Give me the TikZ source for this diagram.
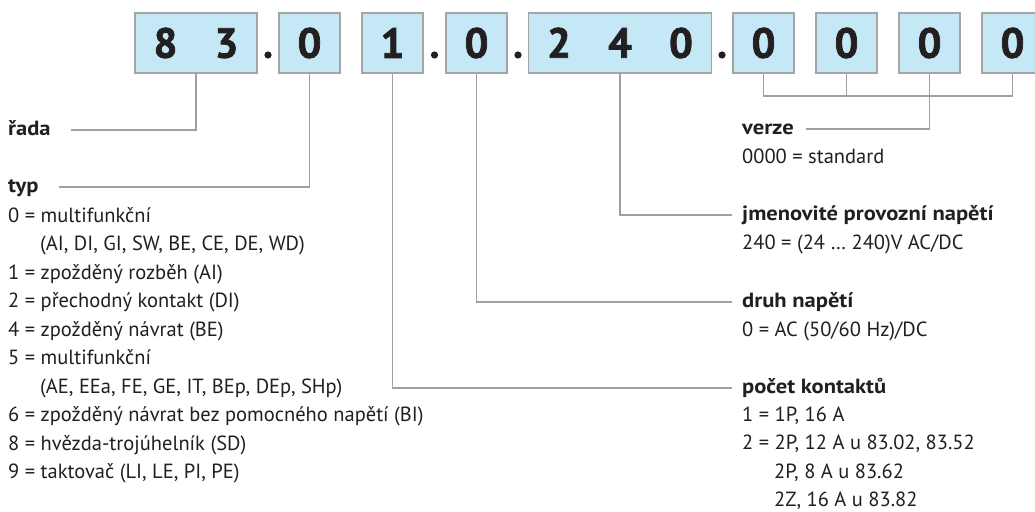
\documentclass[tikz,border=0pt]{standalone}
\usepackage{fontspec}
\setmainfont{PT Sans}[BoldFeatures={FakeStretch=1.1}]
\newfontfamily\digitfont{PT Sans}[BoldFeatures={FakeBold=1.8}]
\definecolor{boxfill}{RGB}{197,232,247}
\definecolor{boxline}{RGB}{165,165,165}
\definecolor{txt}{RGB}{35,31,32}
\definecolor{connc}{RGB}{160,160,160}
\begin{document}
\begin{tikzpicture}[x=1pt,y=-1pt,
  box/.style={draw=boxline, fill=boxfill, line width=1.1pt, minimum height=60pt, inner sep=0pt,
    font=\fontsize{42}{42}\digitfont\bfseries, text=txt},
  dotc/.style={fill=txt},
  head/.style={inner sep=0pt, anchor=base west, text=txt, font=\fontsize{20.5}{28.5}\selectfont\bfseries},
  body/.style={inner sep=0pt, anchor=base west, text=txt, align=left, font=\fontsize{20.5}{28.5}\selectfont},
  conn/.style={draw=connc, line width=1.1pt}
]
\clip (0,0) rectangle (1035,511);
\fill[white] (0,0) rectangle (1035,511);
% boxes
\node[box, minimum width=122pt] (b83) at (196,43) {\makebox[61pt]{8}\makebox[61pt]{3}};
\node[box, minimum width=61pt] (btyp) at (309.5,43) {0};
\node[box, minimum width=61pt] (bcnt) at (392.5,43) {1};
\node[box, minimum width=61pt] (bdr) at (476.5,43) {0};
\node[box, minimum width=183pt] (b240) at (620,43) {\makebox[61pt]{2}\makebox[61pt]{4}\makebox[61pt]{0}};
\node[box, minimum width=61pt] (v1) at (763.5,43) {0};
\node[box, minimum width=61pt] (v2) at (846.5,43) {0};
\node[box, minimum width=61pt] (v3) at (929.5,43) {0};
\node[box, minimum width=61pt] (v4) at (1012.5,43) {0};
% dots
\fill[dotc] (268,55) circle (3.6);
\fill[dotc] (434.5,55) circle (3.6);
\fill[dotc] (518,55) circle (3.6);
\fill[dotc] (722,55) circle (3.6);
% left texts (multi-line nodes are anchored at the baseline of their last line)
\node[head] (rada) at (8,135.5) {řada};
\node[head] (typ) at (8,192.5) {typ};
\node[body] (typtxt) at (8,478.5) {0 = multifunkční\\
\hspace*{32pt}(AI, DI, GI, SW, BE, CE, DE, WD)\\
1 = zpožděný rozběh (AI)\\
2 = přechodný kontakt (DI)\\
4 = zpožděný návrat (BE)\\
5 = multifunkční\\
\hspace*{32pt}(AE, EEa, FE, GE, IT, BEp, DEp, SHp)\\
6 = zpožděný návrat bez pomocného napětí (BI)\\
8 = hvězda-trojúhelník (SD)\\
9 = taktovač (LI, LE, PI, PE)};
% right texts
\node[head] (verze) at (742,134.5) {verze};
\node[body] (verzetxt) at (742,163) {0000 = standard};
\node[head] (jmen) at (742,220.5) {jmenovité provozní napětí};
\node[body] (jmentxt) at (742,249) {240 = (24 … 240)V AC/DC};
\node[head] (druh) at (742,307.5) {druh napětí};
\node[body] (druhtxt) at (742,336) {0 = AC (50/60 Hz)/DC};
\node[head] (pocet) at (742,393.5) {počet kontaktů};
\node[body] (pocettxt) at (742,506.5) {1 = 1P, 16 A\\
2 = 2P, 12 A u 83.02, 83.52\\
\hspace*{32pt}2P, 8 A u 83.62\\
\hspace*{32pt}2Z, 16 A u 83.82};
% connectors
\draw[conn] (b83.south) |- ([xshift=20pt,yshift=5.5pt]rada.base east);
\draw[conn] (btyp.south) |- ([xshift=20pt,yshift=5.5pt]typ.base east);
\draw[conn] (bcnt.south) |- ([xshift=-10pt,yshift=5.5pt]pocet.base west);
\draw[conn] (bdr.south) |- ([xshift=-10pt,yshift=5.5pt]druh.base west);
\draw[conn] (b240.south) |- ([xshift=-10pt,yshift=5.5pt]jmen.base west);
\coordinate (busL) at (763.5,96);
\coordinate (busR) at (1012.5,96);
\draw[conn] (v1.south) -- (busL) -- (busR) -- (v4.south);
\draw[conn] (v2.south) -- (v2.south |- busL);
\draw[conn] (v3.south) |- ([xshift=12pt,yshift=5.5pt]verze.base east);
\end{tikzpicture}
\end{document}
